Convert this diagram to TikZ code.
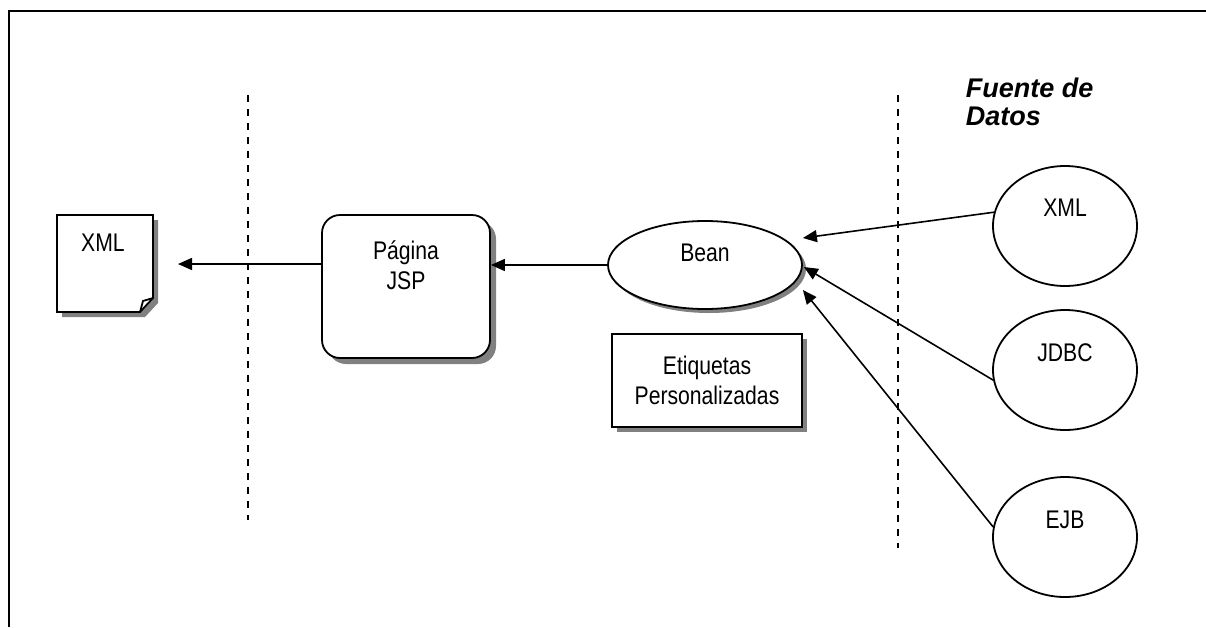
\documentclass[tikz,border=0pt]{standalone}
\usepackage{fontspec}
\setmainfont{Liberation Sans}
\newfontfamily\narrowfont{Liberation Sans}[FakeStretch=0.83]
\usetikzlibrary{arrows.meta,calc,shapes.geometric,shadows}

\begin{document}
\begin{tikzpicture}[x=1pt,y=-1pt,
  line width=1.8pt,
  lbl/.style={font=\narrowfont\fontsize{25.5}{30}\selectfont, align=center, inner sep=0pt},
  shadowed/.style={drop shadow={shadow xshift=#1, shadow yshift=-#1, fill=black!50, opacity=1}},
  link/.style={-{Triangle[length=14pt,width=12pt]}, line width=1.6pt},
  divider/.style={dash pattern=on 7pt off 7pt, line width=1.6pt},
  source/.style={ellipse, draw, fill=white, minimum width=144pt, minimum height=120pt, inner sep=0pt},
]
\useasboundingbox (0,0) rectangle (1206,627);

% open frame: top and left edges only
\draw[line width=2.2pt] (1206,11) -- (9,11) -- (9,627);

% tier dividers
\draw[divider] (248,95) -- (248,520);
\draw[divider] (898,95) -- (898,548);

% XML output document with folded corner
\begin{scope}[shift={(57,215)}]
  \fill[black!50] (5,5) -- (101,5) -- (101,88) -- (88,102) -- (5,102) -- cycle;
  \draw[fill=white] (0,0) -- (96,0) -- (96,83) -- (83,97) -- (0,97) -- cycle;
  \draw (83,97) -- (86,86) -- (96,83);
\end{scope}
\node[minimum width=96pt, minimum height=97pt, inner sep=0pt] (doc) at (105,263.5) {};
\node[lbl] (doctext) at (103,243) {XML};
\coordinate (docin) at (178,264);

% JSP page
\node[draw, fill=white, rounded corners=18pt, minimum width=168pt, minimum height=143pt,
      shadowed=6pt] (jsp) at (406,286.5) {};
\node[lbl] (jsptext) at (406,265) {Página\\JSP};

% bean
\node[ellipse, draw, fill=white, minimum width=194pt, minimum height=88pt, inner sep=0pt,
      shadowed=4pt] (bean) at (705,265) {};
\node[lbl] (beantext) at (705,253) {Bean};

% custom tags
\node[draw, fill=white, minimum width=190pt, minimum height=93pt, shadowed=5pt, lbl]
      (tags) at (707,380.5) {Etiquetas\\Personalizadas};

% data sources
\node[font=\bfseries\itshape\fontsize{27}{28}\selectfont, align=left, anchor=west, inner sep=0pt]
      (fuente) at (965,102) {Fuente de\\Datos};
\node[source] (srcxml) at (1065,226) {};
\node[lbl] (srcxmltext) at (1065,208) {XML};
\node[source] (srcjdbc) at (1065,370) {};
\node[lbl] (srcjdbctext) at (1065,353) {JDBC};
\node[source] (srcejb) at (1065,537) {};
\node[lbl] (srcejbtext) at (1065,520) {EJB};

% data flow
\coordinate (beanA) at ($(bean.east)+(0,-27)$);
\coordinate (beanB) at ($(bean.east)+(1,2)$);
\coordinate (beanC) at ($(bean.east)+(0,25)$);
\draw[link] (srcxml.169.5) -- (beanA);
\draw[link] (srcjdbc.188) -- (beanB);
\draw[link] (srcejb.172) -- (beanC);
\draw[link] (bean.west) -- (bean.west -| jsp.east);
\draw[link] (jsp.west |- docin) -- (docin);
\end{tikzpicture}
\end{document}
